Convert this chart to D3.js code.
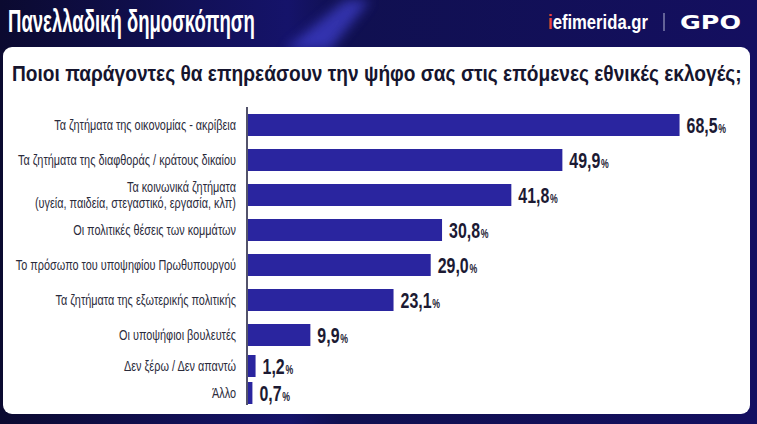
<!DOCTYPE html>
<html><head><meta charset="utf-8">
<script src="https://cdn.jsdelivr.net/npm/d3@7/dist/d3.min.js"></script>
<style>
body{margin:0;background:#0b0a33;overflow:hidden}
svg{display:block}
</style></head>
<body>
<svg id="chart" width="757" height="424"></svg>
<script>
const title = "Πανελλαδική δημοσκόπηση";
const subtitle = "Ποιοι παράγοντες θα επηρεάσουν την ψήφο σας στις επόμενες εθνικές εκλογές;";
const categories = [
  "Τα ζητήματα της οικονομίας - ακρίβεια",
  "Τα ζητήματα της διαφθοράς / κράτους δικαίου",
  "Τα κοινωνικά ζητήματα\n(υγεία, παιδεία, στεγαστικό, εργασία, κλπ)",
  "Οι πολιτικές θέσεις των κομμάτων",
  "Το πρόσωπο του υποψηφίου Πρωθυπουργού",
  "Τα ζητήματα της εξωτερικής πολιτικής",
  "Οι υποψήφιοι βουλευτές",
  "Δεν ξέρω / Δεν απαντώ",
  "Άλλο"
];
const values = [68.5, 49.9, 41.8, 30.8, 29.0, 23.1, 9.9, 1.2, 0.7];
const valueLabels = ["68,5", "49,9", "41,8", "30,8", "29,0", "23,1", "9,9", "1,2", "0,7"];
const brand = "iefimerida.gr";
const partner = "GPO";

const W = 757, H = 424;
const svg = d3.select("#chart");
const font = "'Liberation Sans',Arial,sans-serif";

// helper: draw text squeezed horizontally to a target width
function squeezed(parent, x, y, txt, target, attrs) {
  const g = parent.append("g");
  const t = g.append("text").attr("x", 0).attr("y", 0).text(txt);
  Object.entries(attrs).forEach(([k, v]) => t.attr(k, v));
  const w = t.node().getComputedTextLength();
  g.attr("transform", `translate(${x},${y}) scale(${target / w},1)`);
  return t;
}

const defs = svg.append("defs");
const bg = defs.append("linearGradient").attr("id","bg").attr("x1","0").attr("y1","0").attr("x2","1").attr("y2","0");
bg.append("stop").attr("offset","0").attr("stop-color","#0b0a30");
bg.append("stop").attr("offset","0.38").attr("stop-color","#15136a");
bg.append("stop").attr("offset","0.45").attr("stop-color","#101050");
bg.append("stop").attr("offset","1").attr("stop-color","#140f60");
defs.append("filter").attr("id","blur").append("feGaussianBlur").attr("stdDeviation", 6);

svg.append("rect").attr("width", W).attr("height", H).attr("fill", "url(#bg)");
svg.append("polygon")
  .attr("points", "285,50 330,50 370,0 345,0")
  .attr("fill", "#4a4ae8").attr("opacity", 0.6).attr("filter","url(#blur)");

// Header
squeezed(svg, 8, 32, title, 247, {
  "font-family": font, "font-weight": "bold", "font-size": 32, fill: "#ffffff"
});

const bg2 = svg.append("g");
const bt = bg2.append("text").attr("x", 0).attr("y", 0)
  .attr("font-family", font).attr("font-weight", "bold").attr("font-size", 21).attr("fill", "#ffffff");
bt.append("tspan").attr("fill", "#e8463a").text(brand.slice(0,1));
bt.append("tspan").text(brand.slice(1));
bg2.attr("transform", `translate(548,29) scale(${100 / bt.node().getComputedTextLength()},1)`);

svg.append("line").attr("x1", 664).attr("x2", 664).attr("y1", 13).attr("y2", 31)
  .attr("stroke", "#9a9ac0").attr("stroke-width", 1.2);
squeezed(svg, 680, 29, partner, 61, {
  "font-family": "'DejaVu Sans',sans-serif", "font-weight": "bold", "font-size": 19, fill: "#ffffff"
});

// Panel
svg.append("rect").attr("x", 3).attr("y", 47).attr("width", 747).attr("height", 367)
  .attr("rx", 9).attr("fill", "#ffffff");

squeezed(svg, 12, 81, subtitle, 730, {
  "font-family": font, "font-weight": "bold", "font-size": 22, fill: "#16152e"
});

// Scales
const x = d3.scaleLinear().domain([0, 100]).range([248, 878]);
const y = d3.scaleLinear().domain([0, 6, 7, 8]).range([125, 335, 366, 393]);
const barH = 22;

const g = svg.append("g");
g.selectAll("rect.bar").data(values).join("rect").attr("class","bar")
  .attr("x", x(0)).attr("y", (d,i) => y(i) - barH/2)
  .attr("width", d => x(d) - x(0)).attr("height", barH)
  .attr("fill", "#2a259f");

// axis line
svg.append("line").attr("x1", 247).attr("x2", 247).attr("y1", 107).attr("y2", 405)
  .attr("stroke", "#1a1a3a").attr("stroke-width", 1.5);

// Category labels (condensed via horizontal scale)
const labG = g.selectAll("g.lab").data(categories).join("g").attr("class","lab");
const labT = labG.append("text")
  .attr("text-anchor", "end").attr("font-family", font).attr("font-size", 14)
  .attr("fill", "#2b2b3b");
labT.each(function(d){
  const lines = d.split("\n");
  const t = d3.select(this);
  lines.forEach((ln, j) => {
    t.append("tspan").attr("x", 0)
      .attr("y", 5 + (j - (lines.length-1)/2) * 16)
      .text(ln);
  });
});
const labScale = 182 / labT.nodes()[0].getComputedTextLength();
labG.attr("transform", (d,i) => `translate(236,${y(i)}) scale(${labScale},1)`);

// Value labels
const valG = g.selectAll("g.val").data(values).join("g").attr("class","val");
const valT = valG.append("text").attr("x", 0).attr("y", 0)
  .attr("font-family", font).attr("font-weight", "bold").attr("font-size", 22)
  .attr("fill", "#1c1a33");
const numT = valT.append("tspan").text((d,i) => valueLabels[i]);
valT.append("tspan").attr("font-size", 12).attr("dx", 1).text("%");
const valScale = 31 / numT.nodes()[0].getComputedTextLength();
valG.attr("transform", (d,i) => `translate(${x(d) + 7},${y(i) + 8}) scale(${valScale},1)`);
</script>
</body></html>
